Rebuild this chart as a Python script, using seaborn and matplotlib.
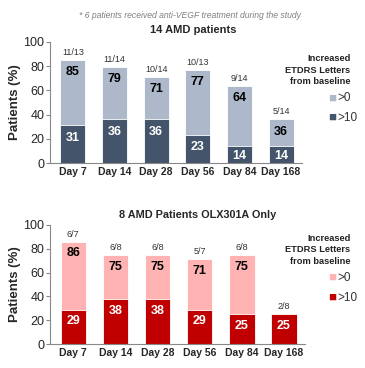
import matplotlib
matplotlib.use("Agg")
import matplotlib.pyplot as plt
import seaborn as sns
import pandas as pd

# Data
days = ["Day 7", "Day 14", "Day 28", "Day 56", "Day 84", "Day 168"]

all_gt0 = [85, 79, 71, 77, 64, 36]
all_gt10 = [31, 36, 36, 23, 14, 14]
all_frac = ["11/13", "11/14", "10/14", "10/13", "9/14", "5/14"]

olx_gt0 = [86, 75, 75, 71, 75, 25]
olx_gt10 = [29, 38, 38, 29, 25, 25]
olx_frac = ["6/7", "6/8", "6/8", "5/7", "6/8", "2/8"]

sns.set_style("white")
plt.rcParams["font.family"] = ["Liberation Sans", "DejaVu Sans"]

fig = plt.figure(figsize=(3.65, 3.68), dpi=100)


def draw_panel(ax, gt0, gt10, fracs, light, dark):
    df = pd.DataFrame({"day": days, "gt0": gt0, "gt10": gt10})
    sns.barplot(data=df, x="day", y="gt0", color=light, width=0.6,
                edgecolor="white", linewidth=0.6, saturation=1, ax=ax)
    sns.barplot(data=df, x="day", y="gt10", color=dark, width=0.6,
                edgecolor="white", linewidth=0.6, saturation=1, ax=ax)
    for i, (t, d, f) in enumerate(zip(gt0, gt10, fracs)):
        ax.text(i, t + 2.5, f, ha="center", va="bottom", fontsize=6.5, color="#333333")
        if t > d:
            ax.text(i, t - 10, str(t), ha="center", va="center", fontsize=9,
                    fontweight="bold", color="black")
        ax.text(i, max(d - 10, 5.5), str(d), ha="center", va="center", fontsize=9,
                fontweight="bold", color="white")
    ax.set_ylim(0, 100)
    ax.set_xlim(-0.55, 5.5)
    ax.set_yticks(range(0, 101, 20))
    ax.set_xlabel("")
    ax.set_ylabel("Patients (%)", fontsize=9.5, fontweight="bold", labelpad=2)
    ax.tick_params(axis="y", labelsize=9, length=3, left=True, pad=1, color="#888888")
    ax.tick_params(axis="x", labelsize=7.5, length=0, pad=3)
    for lab in ax.get_xticklabels():
        lab.set_fontweight("bold")
    sns.despine(ax=ax)
    for s in ["left", "bottom"]:
        ax.spines[s].set_color("#888888")
        ax.spines[s].set_linewidth(0.8)


def legend_block(y_top, light, dark):
    fig.text(0.96, y_top, "Increased\nETDRS Letters\nfrom baseline", ha="right", va="top",
             fontsize=6.7, fontweight="bold", linespacing=1.35, color="#222222")
    ly = y_top - 0.12
    fig.text(0.91, ly, "\u25a0", color=light, fontsize=9.5, ha="center", va="center")
    fig.text(0.925, ly, ">0", fontsize=8.5, ha="left", va="center", color="#333333")
    ly2 = ly - 0.053
    fig.text(0.91, ly2, "\u25a0", color=dark, fontsize=9.5, ha="center", va="center")
    fig.text(0.925, ly2, ">10", fontsize=8.5, ha="left", va="center", color="#333333")


ax1 = fig.add_axes([0.137, 0.557, 0.69, 0.329])
draw_panel(ax1, all_gt0, all_gt10, all_frac, "#ADB9CA", "#44546A")

ax2 = fig.add_axes([0.137, 0.065, 0.699, 0.324])
draw_panel(ax2, olx_gt0, olx_gt10, olx_frac, "#FFB3B3", "#C00000")

fig.text(0.52, 0.959, "* 6 patients received anti-VEGF treatment during the study",
         ha="center", va="center", fontsize=6.2, style="italic", color="#808080")
fig.text(0.53, 0.918, "14 AMD patients", ha="center", va="center", fontsize=8,
         fontweight="bold")
fig.text(0.54, 0.416, "8 AMD Patients OLX301A Only", ha="center", va="center",
         fontsize=7.8, fontweight="bold")

legend_block(0.853, "#ADB9CA", "#44546A")
legend_block(0.364, "#FFB3B3", "#C00000")

fig.savefig("out.png", dpi=100)
